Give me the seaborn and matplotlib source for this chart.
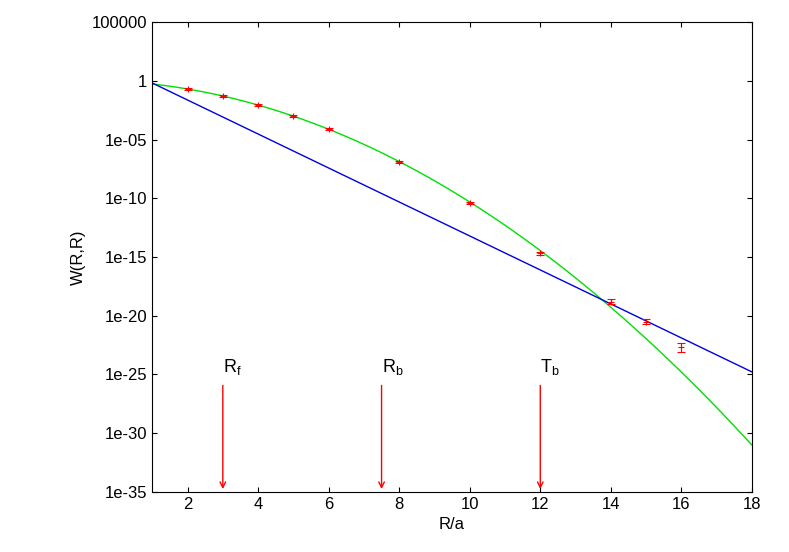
import numpy as np
import matplotlib
matplotlib.use("Agg")
import matplotlib.pyplot as plt
import seaborn as sns
import pandas as pd

x_pts = [2, 3, 4, 5, 6, 8, 10, 12, 14, 15, 16]
logW = [-0.7, -1.3, -2.06, -3.0, -4.1, -6.9, -10.4, -14.7, -18.8, -20.5, -22.7]
logErr = [0.05, 0.05, 0.05, 0.05, 0.05, 0.08, 0.1, 0.15, 0.2, 0.25, 0.4]
# fit parameters (log10 W)
quad_fit = [-0.02, -0.165, -0.0865]
lin_fit = [1.257, -1.447]
arrow_x = [3, 7.5, 12]
arrow_labels = [r"R$_\mathrm{f}$", r"R$_\mathrm{b}$", r"T$_\mathrm{b}$"]

sns.set_style("ticks")
plt.rcParams.update({"font.family": "Liberation Sans", "text.color": "black",
                     "axes.labelcolor": "black", "xtick.color": "black", "ytick.color": "black",
                     "mathtext.fontset": "custom", "mathtext.rm": "Liberation Sans"})
fig, ax = plt.subplots(figsize=(7.89, 5.52), dpi=100)
fig.subplots_adjust(left=0.193, right=0.953, bottom=0.109, top=0.96)

xs = np.linspace(1, 18, 300)
qa, qb, qc = quad_fit
df = pd.DataFrame({"x": xs, "g": 10.0 ** (qa + qb * xs + qc * xs**2),
                   "b": 10.0 ** (lin_fit[0] + lin_fit[1] * xs)})
sns.lineplot(data=df, x="x", y="g", color="#00e000", lw=1, ax=ax)
sns.lineplot(data=df, x="x", y="b", color="#0000e0", lw=1, ax=ax)

xp = np.array(x_pts); lw_ = np.array(logW); le = np.array(logErr)
yv = 10.0 ** lw_
yerr = [yv - 10.0 ** (lw_ - le), 10.0 ** (lw_ + le) - yv]
ax.errorbar(xp, yv, yerr=yerr, fmt="none", ecolor="red", elinewidth=0.8, capsize=3, capthick=0.8)
ax.scatter(xp, yv, marker="+", color="red", s=22, linewidths=0.8, zorder=3)

for xa, lab in zip(arrow_x, arrow_labels):
    ax.annotate("", xy=(xa, 1e-35), xytext=(xa, 10**-25.7),
                arrowprops=dict(arrowstyle="->", color="red", lw=1))
    ax.text(xa, 10**-25.2, lab, fontsize=13, ha="left", va="bottom")

ax.set_yscale("log")
ax.set_xlim(1, 18)
ax.set_ylim(1e-35, 1e5)
yt = [1e5, 1, 1e-5, 1e-10, 1e-15, 1e-20, 1e-25, 1e-30, 1e-35]
ax.set_yticks(yt)
ax.set_yticklabels(["100000", "1", "1e-05", "1e-10", "1e-15", "1e-20", "1e-25", "1e-30", "1e-35"])
ax.minorticks_off()
ax.set_xticks(range(2, 19, 2))
ax.tick_params(direction="in", labelsize=12, top=True, right=True)
for s in ax.spines.values():
    s.set_visible(True); s.set_color("black")
ax.set_xlabel("R/a", fontsize=12)
ax.set_ylabel("W(R,R)", fontsize=12)
fig.savefig("out.png", dpi=100)
